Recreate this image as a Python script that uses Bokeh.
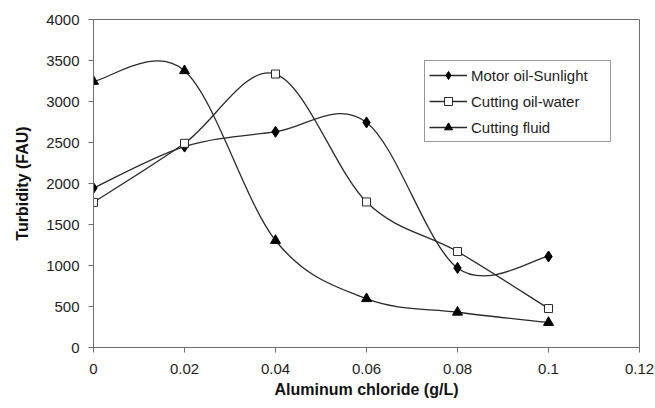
from bokeh.plotting import figure
from bokeh.models import Range1d, FixedTicker, Legend, LegendItem, ColumnDataSource
from bokeh.embed import file_html
from bokeh.resources import INLINE

# Aluminum chloride dose (g/L)
dose = [0.0, 0.02, 0.04, 0.06, 0.08, 0.10]

# Turbidity (FAU) for each wastewater
motor_oil_sunlight = [1945, 2450, 2630, 2745, 970, 1110]
cutting_oil_water = [1770, 2490, 3335, 1775, 1170, 475]
cutting_fluid = [3245, 3375, 1305, 595, 430, 305]

series_names = ["Motor oil-Sunlight", "Cutting oil-water", "Cutting fluid"]

x_ticks = [0.0, 0.02, 0.04, 0.06, 0.08, 0.10, 0.12]
x_tick_labels = ["0", "0.02", "0.04", "0.06", "0.08", "0.1", "0.12"]
y_ticks = [0, 500, 1000, 1500, 2000, 2500, 3000, 3500, 4000]

FONT = "Liberation Sans"
LINE = "#2a2a2a"
TEXT = "#1e1e1e"
AXIS = "#6e6e6e"


def smooth_segments(xs, ys):
    """Cubic Bezier segments (Catmull-Rom style) passing through every point."""
    n = len(xs)
    seg = dict(x0=[], y0=[], x1=[], y1=[], cx0=[], cy0=[], cx1=[], cy1=[])
    for i in range(n - 1):
        p0 = max(i - 1, 0)
        p3 = min(i + 2, n - 1)
        seg["x0"].append(xs[i])
        seg["y0"].append(ys[i])
        seg["x1"].append(xs[i + 1])
        seg["y1"].append(ys[i + 1])
        seg["cx0"].append(xs[i] + (xs[i + 1] - xs[p0]) / 6)
        seg["cy0"].append(ys[i] + (ys[i + 1] - ys[p0]) / 6)
        seg["cx1"].append(xs[i + 1] - (xs[p3] - xs[i]) / 6)
        seg["cy1"].append(ys[i + 1] - (ys[p3] - ys[i]) / 6)
    return ColumnDataSource(seg)


p = figure(
    width=655, height=408,
    output_backend="svg", toolbar_location=None,
    x_range=Range1d(0, 0.12), y_range=Range1d(0, 4000),
    min_border_left=93, min_border_right=16,
    min_border_top=19, min_border_bottom=61,
)
p.background_fill_color = "white"
p.border_fill_color = "white"
p.outline_line_color = AXIS
p.outline_line_width = 1
p.xgrid.visible = False
p.ygrid.visible = False

# axes
p.xaxis.ticker = FixedTicker(ticks=x_ticks)
p.xaxis.major_label_overrides = {t: s for t, s in zip(x_ticks, x_tick_labels)}
p.yaxis.ticker = FixedTicker(ticks=y_ticks)
for ax in (p.xaxis[0], p.yaxis[0]):
    ax.axis_line_color = AXIS
    ax.axis_line_width = 1
    ax.major_tick_line_color = AXIS
    ax.major_tick_out = 5
    ax.major_tick_in = 0
    ax.minor_tick_out = 0
    ax.minor_tick_in = 0
    ax.major_label_text_font = FONT
    ax.major_label_text_font_size = "15px"
    ax.major_label_text_color = TEXT
    ax.axis_label_text_font = FONT
    ax.axis_label_text_font_size = "16px"
    ax.axis_label_text_font_style = "bold"
    ax.axis_label_text_color = "#111111"

p.xaxis.axis_label = "Aluminum chloride (g/L)"
p.yaxis.axis_label = "Turbidity (FAU)"
p.xaxis.major_label_standoff = 11
p.xaxis.axis_label_standoff = 4
p.yaxis.major_label_standoff = 9
p.yaxis.axis_label_standoff = 12

all_series = [motor_oil_sunlight, cutting_oil_water, cutting_fluid]
markers = [
    dict(marker="diamond", size=11, fill_color="black", line_color="black"),
    dict(marker="square", size=8, fill_color="white", line_color=LINE),
    dict(marker="triangle", size=10, fill_color="black", line_color="black"),
]

items = []
for name, ys, mk in zip(series_names, all_series, markers):
    curve = p.bezier(
        x0="x0", y0="y0", x1="x1", y1="y1",
        cx0="cx0", cy0="cy0", cx1="cx1", cy1="cy1",
        source=smooth_segments(dose, ys),
        line_color=LINE, line_width=1.3,
    )
    pts = p.scatter(dose, ys, line_width=1, **mk)
    items.append(LegendItem(label=name, renderers=[curve, pts]))

legend = Legend(
    items=items,
    location=(331, 205),
    label_text_font=FONT,
    label_text_font_size="15px",
    label_text_color=TEXT,
    glyph_width=38,
    glyph_height=20,
    label_height=20,
    label_width=135,
    label_standoff=4,
    spacing=6,
    padding=4,
    margin=0,
    border_line_color="#333333",
    border_line_width=1,
    background_fill_color="white",
    background_fill_alpha=1,
)
p.add_layout(legend)

open("out.html", "w").write(file_html(p, INLINE))
